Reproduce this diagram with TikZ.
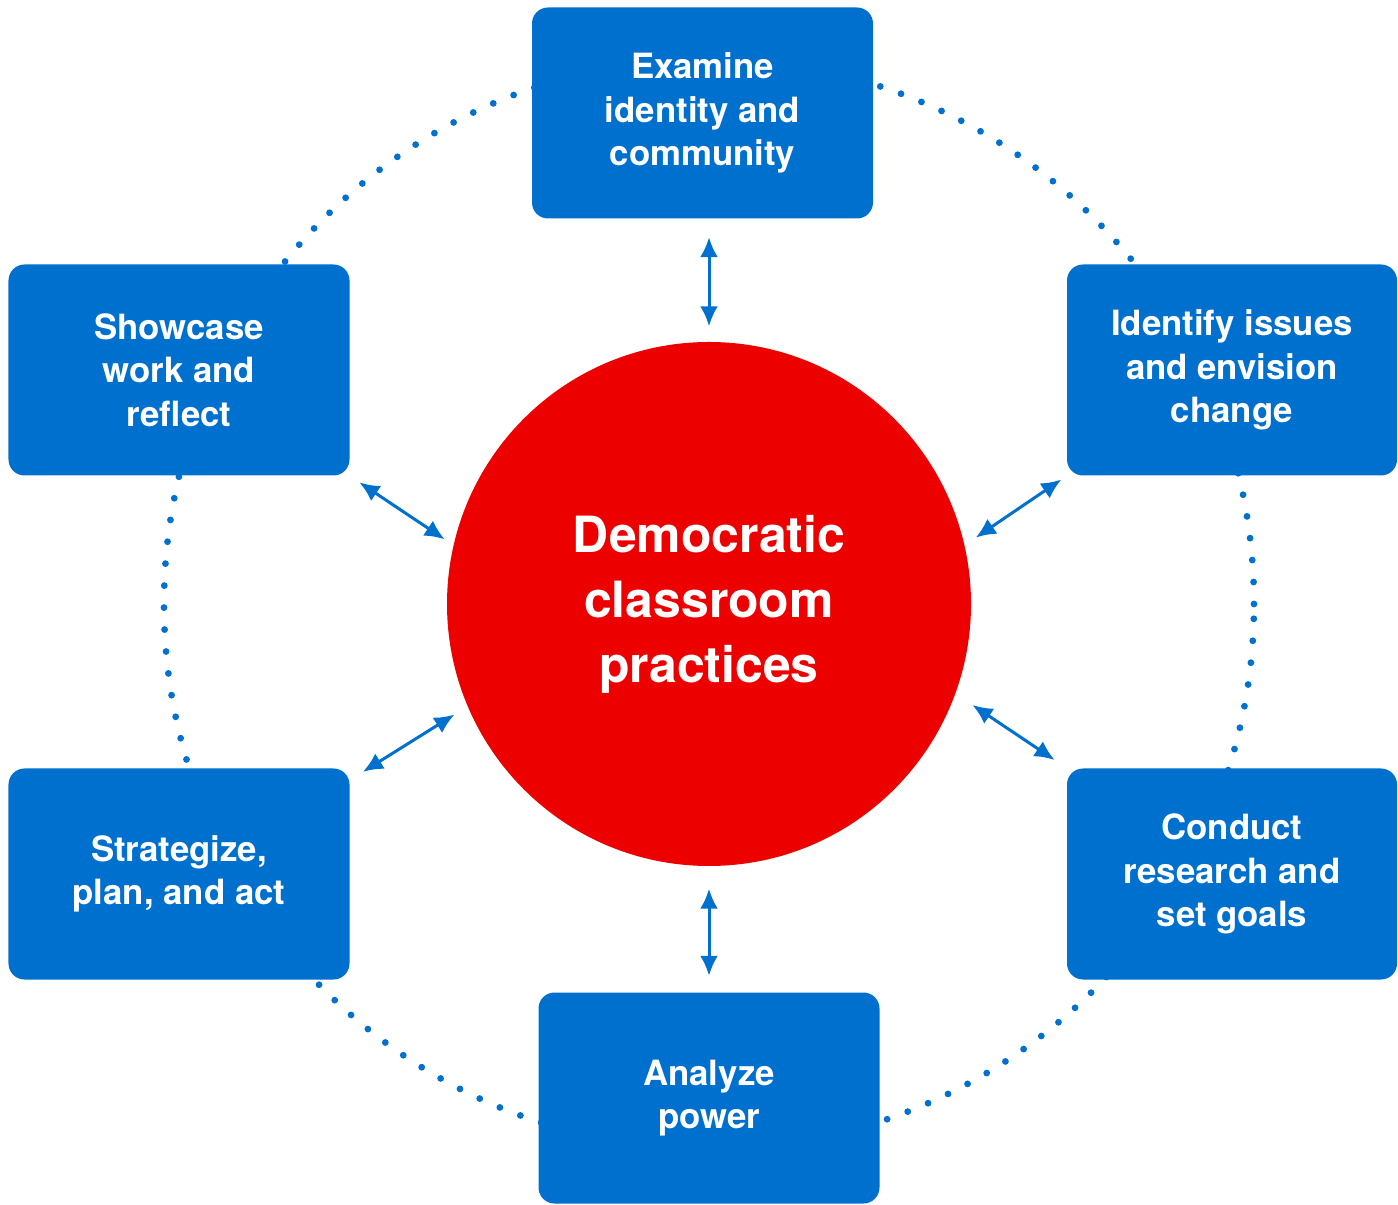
\documentclass[tikz,border=0pt]{standalone}
\usepackage{fontspec}
\setmainfont{TeX Gyre Heros}
\usepackage{tikz}
\usetikzlibrary{arrows.meta,backgrounds}
\definecolor{boxblue}{RGB}{0,112,206}
\definecolor{hubred}{RGB}{237,0,0}

\begin{document}
\begin{tikzpicture}[scale=1,
	box/.style={fill=boxblue,rounded corners=0.16cm,minimum width=3.41cm,minimum height=2.11cm,inner sep=0,align=center,text=white,font=\fontsize{9.9}{12.4}\selectfont\bfseries},
	hub/.style={circle,fill=hubred,minimum size=5.24cm,inner sep=0,align=center,text=white,font=\fontsize{14.2}{18.5}\selectfont\bfseries},
	biarrow/.style={draw=boxblue,line width=0.03cm,{Latex[length=0.2cm,width=0.18cm]}-{Latex[length=0.2cm,width=0.18cm]}},
	dotring/.style={draw=boxblue,line width=0.068cm,line cap=round,dash pattern=on 0pt off 0.22cm}]
				\useasboundingbox (0,0) rectangle (13.98,-12.05);
				%centre circle
				\node[hub] (demo) at (7.09,-6.04){Democratic\\classroom\\practices};
				%six boxes placed by hand
				\node[box] (examine) at (7.025,-1.13){Examine\\identity and\\community};
				\node[box,minimum width=3.30cm] (identify) at (12.32,-3.70){Identify issues\\and envision\\change};
				\node[box,minimum width=3.30cm] (conduct) at (12.32,-8.74){Conduct\\research and\\set goals};
				\node[box] (analyze) at (7.09,-10.98){Analyze\\power};
				\node[box] (strat) at (1.79,-8.74){Strategize,\\plan, and act};
				\node[box] (showcase) at (1.79,-3.70){Showcase\\work and\\reflect};

				%% dotted ring behind the boxes
				\begin{pgfonlayer}{background}
				\draw[dotring] (demo.center) circle[radius=5.45];
				\end{pgfonlayer}

				%% arrows between circle and boxes
				\draw[biarrow,shorten <=0.15cm,shorten >=0.18cm] (demo.north) -- (demo.north |- examine.south);
				\draw[biarrow,shorten <=0.06cm,shorten >=0.13cm] (identify.south west) -- (demo.13);
				\draw[biarrow,shorten <=0.20cm,shorten >=0.14cm] (demo.-20) -- (conduct.north west);
				\draw[biarrow,shorten <=0.22cm,shorten >=0.16cm] (demo.south) -- (analyze.north);
				\draw[biarrow,shorten <=0.15cm,shorten >=0.15cm] ([yshift=-0.12cm]strat.north east) -- (demo.203);
				\draw[biarrow,shorten <=0.11cm,shorten >=0.10cm] (showcase.south east) -- (demo.167);
				\end{tikzpicture}
\end{document}
